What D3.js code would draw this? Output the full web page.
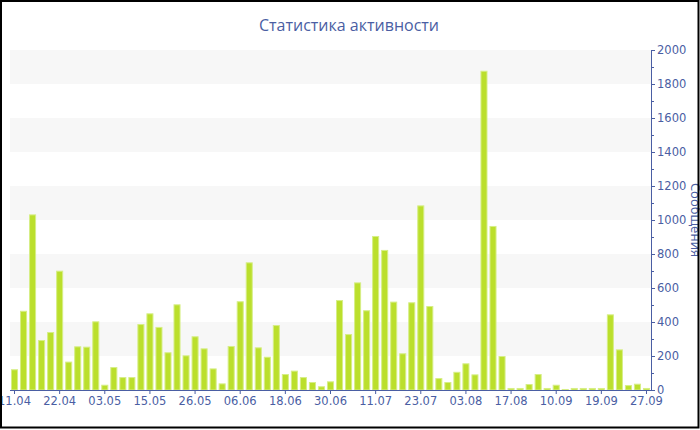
<!DOCTYPE html>
<html><head><meta charset="utf-8">
<script src="https://cdn.jsdelivr.net/npm/d3@7"></script>
<style>body{margin:0;background:#fff}svg{display:block}</style>
</head><body><svg id="c" width="700" height="430"></svg>
<script>
const categories = ["11.04","13.04","15.04","18.04","20.04","22.04","24.04","26.04","29.04","01.05",
"03.05","05.05","08.05","10.05","12.05","15.05","17.05","19.05","22.05","24.05",
"26.05","28.05","30.05","02.06","04.06","06.06","08.06","11.06","13.06","15.06",
"18.06","20.06","23.06","25.06","27.06","30.06","02.07","04.07","06.07","08.07",
"11.07","13.07","16.07","18.07","20.07","23.07","25.07","27.07","29.07","01.08",
"03.08","06.08","09.08","12.08","14.08","17.08","22.08","27.08","01.09","05.09",
"10.09","12.09","14.09","16.09","17.09","19.09","21.09","22.09","24.09","25.09","27.09"];
const messages = [122,466,1033,294,341,702,167,257,255,404,
31,135,76,76,388,451,371,222,504,204,
316,245,127,39,259,522,751,251,196,382,
94,114,76,47,22,51,529,329,633,469,
906,824,520,216,516,1086,494,70,47,107,
157,92,1878,965,200,12,12,35,94,12,
31,6,12,12,12,12,445,239,29,37,12];
const xTickLabels = ["11.04","22.04","03.05","15.05","26.05","06.06","18.06","30.06","11.07","23.07","03.08","17.08","10.09","19.09","27.09"];
const yTicks = [0,200,400,600,800,1000,1200,1400,1600,1800,2000];
const title = "Статистика активности";
const yTitle = "Сообщения";

const svg = d3.select("#c");
const blue = "#4a5ea3";
const L = 10, R = 651, T = 50, B = 390;
const x = d3.scaleBand().domain(categories).range([L, R]).paddingInner(0.22).paddingOuter(0.11);
const y = d3.scaleLinear().domain([0, 2000]).range([B, T]);

// alternating bands
const bands = d3.range(0, yTicks.length - 1).filter(i => i % 2 === 1);
svg.append("g").selectAll("rect").data(bands).join("rect")
  .attr("x", L).attr("width", R - L)
  .attr("y", i => y(yTicks[i + 1])).attr("height", i => y(yTicks[i]) - y(yTicks[i + 1]))
  .attr("fill", "#f7f7f7");

// bars
svg.append("g").selectAll("rect").data(messages).join("rect")
  .attr("x", (d, i) => x(categories[i]) + 0.5)
  .attr("width", x.bandwidth() - 1)
  .attr("y", d => y(d) + 0.5)
  .attr("height", d => Math.max(0, B - y(d) - 0.5))
  .attr("fill", "#bbdf2c")
  .attr("stroke", "#d6ee86").attr("stroke-width", 1);

// x axis
const xa = svg.append("g").attr("transform", `translate(0,${B})`)
  .call(d3.axisBottom(x).tickValues(xTickLabels).tickSize(4).tickSizeOuter(0).tickPadding(3));
xa.select(".domain").attr("stroke", blue).attr("d", `M${L},0.5H${R}`);
xa.selectAll(".tick line").attr("stroke", blue);
xa.selectAll("text").attr("fill", blue).style("font-family", "DejaVu Sans").style("font-size", "11.5px");

// y axis
const ya = svg.append("g").attr("transform", `translate(${R},0)`)
  .call(d3.axisRight(y).tickValues(yTicks).tickFormat(d3.format("d")).tickSize(4).tickSizeOuter(0).tickPadding(2));
ya.select(".domain").attr("stroke", blue);
ya.selectAll(".tick line").attr("stroke", blue);
ya.selectAll("text").attr("fill", blue).style("font-family", "DejaVu Sans").style("font-size", "11.5px");
const minor = d3.range(100, 2000, 200);
ya.append("g").selectAll("line").data(minor).join("line")
  .attr("x1", 0).attr("x2", 3).attr("y1", d => y(d) + 0.5).attr("y2", d => y(d) + 0.5)
  .attr("stroke", blue);

// y title
svg.append("text").attr("transform", `translate(691,${(T + B) / 2}) rotate(90)`)
  .attr("text-anchor", "middle").attr("fill", blue)
  .style("font-family", "Open Sans").style("font-size", "13px").text(yTitle);

// title
svg.append("text").attr("x", 349).attr("y", 31).attr("text-anchor", "middle")
  .attr("fill", blue).style("font-family", "Open Sans").style("font-size", "16px").text(title);

// border
svg.append("rect").attr("x", 1).attr("y", 1).attr("width", 697.5).attr("height", 426.5)
  .attr("fill", "none").attr("stroke", "#000").attr("stroke-width", 2);
</script></body></html>
